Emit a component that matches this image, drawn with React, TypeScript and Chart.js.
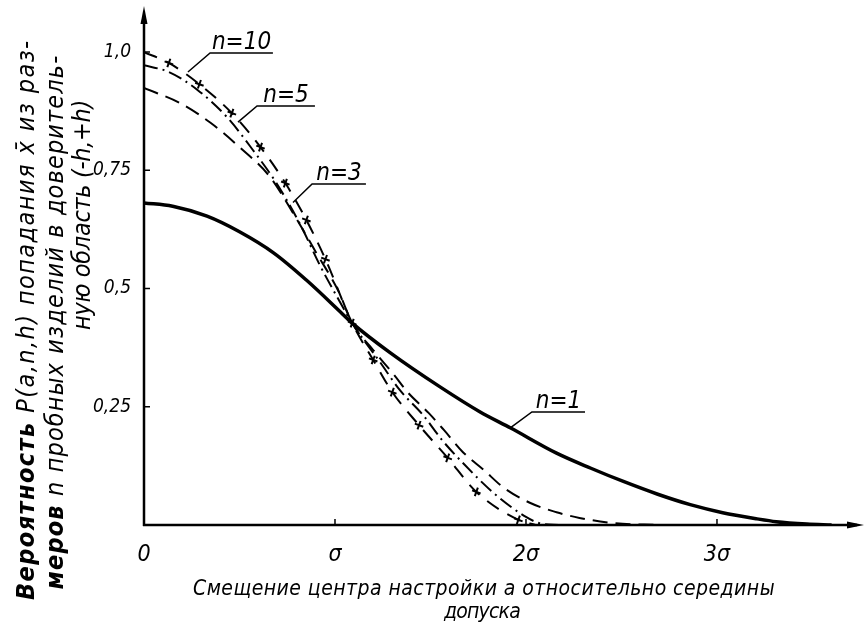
import React, { useEffect, useRef } from 'react';
import { Chart, registerables } from 'chart.js';

Chart.register(...registerables);

// ---- data (x in units of sigma, y = probability) ----
const xTickValues = [0, 1, 2, 3];
const xTickLabels = ['0', 'σ', '2σ', '3σ'];
const yTickValues = [0.25, 0.5, 0.75, 1.0];
const yTickLabels = ['0,25', '0,5', '0,75', '1,0'];

const n1X = [0, 0.15, 0.33, 0.5, 0.68, 0.85, 1.03, 1.09, 1.29, 1.55, 1.76, 1.92, 2.16, 2.34, 2.51, 2.69, 2.86, 3.03, 3.21, 3.31, 3.47, 3.6];
const n1Y = [0.681, 0.674, 0.653, 0.62, 0.575, 0.518, 0.45, 0.427, 0.364, 0.292, 0.239, 0.205, 0.152, 0.12, 0.092, 0.065, 0.043, 0.026, 0.013, 0.007, 0.002, 0];

const n3X = [0, 0.19, 0.35, 0.5, 0.66, 0.78, 0.9, 1.02, 1.09, 1.2, 1.31, 1.38, 1.49, 1.57, 1.67, 1.78, 1.88, 2.02, 2.16, 2.28, 2.46, 2.7];
const n3Y = [0.924, 0.892, 0.85, 0.799, 0.736, 0.66, 0.577, 0.493, 0.427, 0.37, 0.317, 0.281, 0.237, 0.201, 0.154, 0.116, 0.08, 0.047, 0.027, 0.015, 0.004, 0];

const n5X = [0, 0.13, 0.28, 0.44, 0.57, 0.69, 0.82, 0.92, 1.02, 1.09, 1.24, 1.34, 1.46, 1.56, 1.67, 1.83, 2.0, 2.07, 2.18];
const n5Y = [0.972, 0.958, 0.92, 0.86, 0.793, 0.725, 0.634, 0.55, 0.476, 0.427, 0.342, 0.285, 0.233, 0.18, 0.131, 0.068, 0.017, 0.004, 0];

const n10X = [0, 0.13, 0.29, 0.46, 0.61, 0.74, 0.85, 0.95, 1.09, 1.2, 1.3, 1.44, 1.59, 1.74, 1.96, 2.05];
const n10Y = [1.0, 0.977, 0.932, 0.871, 0.799, 0.723, 0.645, 0.562, 0.427, 0.349, 0.281, 0.211, 0.142, 0.07, 0.011, 0];

const seriesNames = ['n=1', 'n=3', 'n=5', 'n=10'];

const xTitleLines = ['Смещение центра настройки а относительно середины', 'допуска'];
// y title lines as [bold part, regular part]
const yTitleLines = [
  ['Вероятность', ' P(a,n,h) попадания x̄ из раз-'],
  ['меров', ' n пробных изделий в доверитель-'],
  ['', 'ную область (-h,+h)'],
];

// curve labels: leader tip and underline ends in data coordinates
const labelTips = [[1.916, 0.205], [0.78, 0.682], [0.492, 0.852], [0.23, 0.958]];
const labelLines = [[2.031, 2.309, 0.239], [0.88, 1.162, 0.721], [0.592, 0.895, 0.886], [0.346, 0.675, 0.998]];

const FONT = "'DejaVu Sans Condensed', 'DejaVu Sans', sans-serif";

const pts = (xs: number[], ys: number[]) => xs.map((x, i) => ({ x, y: ys[i] }));

// draw text segments (bold/regular) centered at (cx, cy), stretched to a target width with letter spacing
function drawFitted(ctx: any, segs: [string, boolean][], size: number, target: number, cx: number, cy: number) {
  const fonts = segs.map(([, b]) => `italic ${b ? 'bold ' : ''}${size}px ${FONT}`);
  let natural = 0;
  let chars = 0;
  segs.forEach(([t], i) => {
    ctx.font = fonts[i];
    ctx.letterSpacing = '0px';
    natural += ctx.measureText(t).width;
    chars += [...t].length;
  });
  const ls = chars > 1 ? (target - natural) / chars : 0;
  let x = cx - target / 2;
  ctx.textAlign = 'left';
  ctx.textBaseline = 'middle';
  segs.forEach(([t], i) => {
    if (!t) return;
    ctx.font = fonts[i];
    ctx.letterSpacing = '0px';
    const w = ctx.measureText(t).width + ls * [...t].length;
    ctx.letterSpacing = `${ls}px`;
    ctx.fillText(t, x, cy);
    x += w;
  });
  ctx.letterSpacing = '0px';
}

const decorPlugin = {
  id: 'decor',
  afterDraw(chart: any) {
    const { ctx, chartArea, scales } = chart;
    const xs = scales.x;
    const ys = scales.y;
    const x0 = xs.getPixelForValue(0);
    const y0 = ys.getPixelForValue(0);
    ctx.save();
    ctx.strokeStyle = '#000';
    ctx.fillStyle = '#000';
    ctx.lineCap = 'butt';
    // axes
    ctx.lineWidth = 2.5;
    ctx.beginPath();
    ctx.moveTo(x0, y0 + 1);
    ctx.lineTo(x0, chartArea.top + 6);
    ctx.moveTo(x0 - 1, y0);
    ctx.lineTo(chartArea.right - 8, y0);
    ctx.stroke();
    // arrows
    ctx.beginPath();
    ctx.moveTo(x0, chartArea.top - 4);
    ctx.lineTo(x0 - 3.5, chartArea.top + 14);
    ctx.lineTo(x0 + 3.5, chartArea.top + 14);
    ctx.closePath();
    ctx.fill();
    ctx.beginPath();
    ctx.moveTo(chartArea.right - 1, y0);
    ctx.lineTo(chartArea.right - 18, y0 - 3.5);
    ctx.lineTo(chartArea.right - 18, y0 + 3.5);
    ctx.closePath();
    ctx.fill();
    // inward ticks
    ctx.lineWidth = 1.5;
    ctx.beginPath();
    yTickValues.forEach((v) => {
      const p = ys.getPixelForValue(v);
      ctx.moveTo(x0, p);
      ctx.lineTo(x0 + 6, p);
    });
    xTickValues.forEach((v) => {
      if (v === 0) return;
      const p = xs.getPixelForValue(v);
      ctx.moveTo(p, y0);
      ctx.lineTo(p, y0 - 6);
    });
    ctx.stroke();

    // curve labels
    ctx.lineWidth = 1.5;
    ctx.font = `italic 24px ${FONT}`;
    ctx.textAlign = 'center';
    ctx.textBaseline = 'alphabetic';
    seriesNames.forEach((name, i) => {
      const [tx, ty] = labelTips[i];
      const [lx1, lx2, ly] = labelLines[i];
      const px1 = xs.getPixelForValue(lx1);
      const px2 = xs.getPixelForValue(lx2);
      const py = ys.getPixelForValue(ly);
      ctx.beginPath();
      ctx.moveTo(xs.getPixelForValue(tx), ys.getPixelForValue(ty));
      ctx.lineTo(px1, py);
      ctx.lineTo(px2, py);
      ctx.stroke();
      ctx.fillText(name, (px1 + px2) / 2, py - 4);
    });

    // x title
    drawFitted(ctx, [[xTitleLines[0], false]], 21, 582, 484, 590);
    drawFitted(ctx, [[xTitleLines[1], false]], 21, 76, 482, 613);

    // y title (rotated)
    const yPlace = [[27, 319, 562], [56, 322, 535], [83, 215, 230]];
    yTitleLines.forEach((line, i) => {
      ctx.save();
      ctx.translate(yPlace[i][0], yPlace[i][1]);
      ctx.rotate(-Math.PI / 2);
      drawFitted(ctx, [[line[0], true], [line[1], false]], 25, yPlace[i][2], 0, 0);
      ctx.restore();
    });
    ctx.restore();
  },
};

export default function App() {
  const ref = useRef<HTMLCanvasElement>(null);
  useEffect(() => {
    if (!ref.current) return;
    const lastIdx = n10X.length - 1;
    const chart = new Chart(ref.current, {
      type: 'line',
      data: {
        datasets: [
          {
            label: seriesNames[0],
            data: pts(n1X, n1Y),
            borderColor: '#000',
            borderWidth: 3.5,
            pointRadius: 0,
            cubicInterpolationMode: 'monotone',
          },
          {
            label: seriesNames[1],
            data: pts(n3X, n3Y),
            borderColor: '#000',
            borderWidth: 2,
            borderDash: [15, 8],
            pointRadius: 0,
            cubicInterpolationMode: 'monotone',
          },
          {
            label: seriesNames[2],
            data: pts(n5X, n5Y),
            borderColor: '#000',
            borderWidth: 2,
            borderDash: [14, 5, 2, 5],
            pointRadius: 0,
            cubicInterpolationMode: 'monotone',
          },
          {
            label: seriesNames[3],
            data: pts(n10X, n10Y),
            borderColor: '#000',
            borderWidth: 2,
            borderDash: [14, 10],
            pointStyle: 'cross',
            pointRotation: 20,
            pointRadius: (c: any) => (c.dataIndex === 0 || c.dataIndex === lastIdx ? 0 : 4.5),
            pointBorderWidth: 2,
            pointBorderColor: '#000',
            cubicInterpolationMode: 'monotone',
          },
        ],
      } as any,
      options: {
        animation: false,
        responsive: false,
        devicePixelRatio: 1,
        layout: { padding: { top: 10, left: 0, right: 0, bottom: 0 } },
        plugins: { legend: { display: false }, tooltip: { enabled: false }, title: { display: false } },
        scales: {
          x: {
            type: 'linear',
            min: 0,
            max: 3.775,
            grid: { display: false, drawTicks: false },
            border: { display: false },
            afterBuildTicks: (s: any) => {
              s.ticks = xTickValues.map((v) => ({ value: v }));
            },
            afterFit: (s: any) => {
              s.height = 102;
              s.paddingLeft = 0;
              s.paddingRight = 0;
            },
            ticks: {
              color: '#000',
              font: { family: FONT, size: 23, style: 'italic' },
              padding: 16,
              maxRotation: 0,
              autoSkip: false,
              callback: (v: any) => xTickLabels[xTickValues.indexOf(Number(v))] ?? '',
            },
          },
          y: {
            type: 'linear',
            min: 0,
            max: 1.089,
            grid: { display: false, drawTicks: false },
            border: { display: false },
            afterBuildTicks: (s: any) => {
              s.ticks = yTickValues.map((v) => ({ value: v }));
            },
            afterFit: (s: any) => {
              s.width = 144;
              s.paddingTop = 0;
              s.paddingBottom = 0;
            },
            ticks: {
              color: '#000',
              font: { family: FONT, size: 19, style: 'italic' },
              padding: 13,
              autoSkip: false,
              callback: (v: any) => yTickLabels[yTickValues.indexOf(Number(v))] ?? '',
            },
          },
        },
      },
      plugins: [decorPlugin],
    } as any);
    return () => chart.destroy();
  }, []);
  return (
    <div style={{ position: 'absolute', left: 0, top: 0, width: 865, height: 627, background: '#fff' }}>
      <canvas ref={ref} width={865} height={627} style={{ display: 'block' }} />
    </div>
  );
}
